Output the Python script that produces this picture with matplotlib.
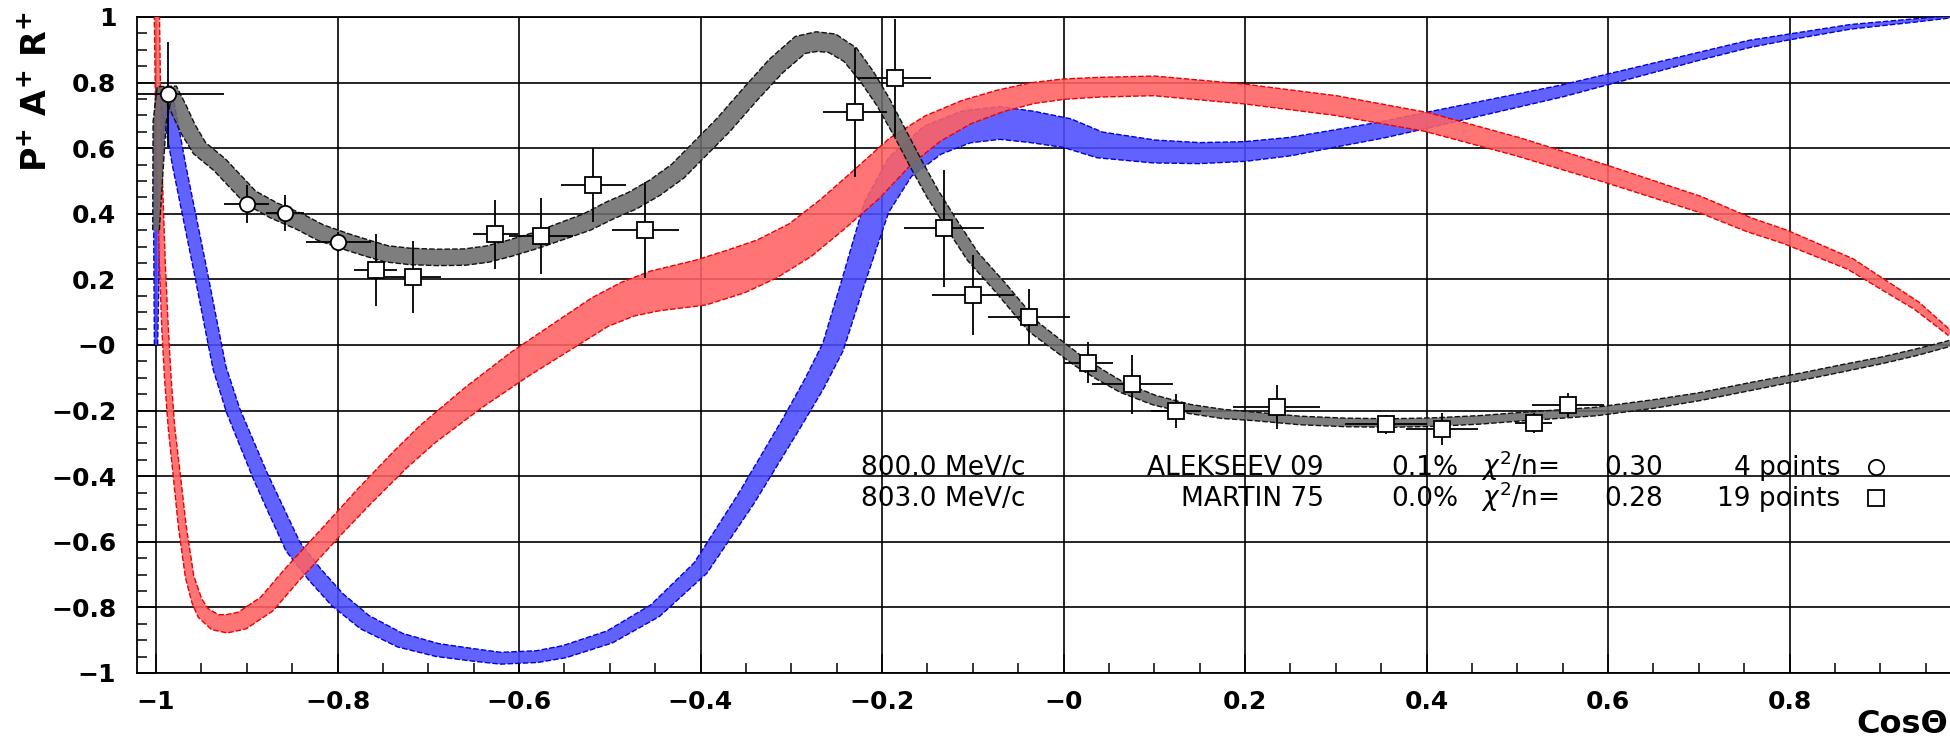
import numpy as np
import matplotlib
matplotlib.use('Agg')
import matplotlib.pyplot as plt
from matplotlib.ticker import FixedLocator, FixedFormatter, MultipleLocator

plt.rcParams['font.family'] = ['DejaVu Sans']
plt.rcParams['mathtext.fontset'] = 'dejavusans'

# ---- bands: centre curve and half width (y units) ----
p_x = [-1.0, -0.996, -0.99, -0.985, -0.975, -0.965, -0.952, -0.93, -0.896, -0.87,
       -0.841, -0.819, -0.79, -0.767, -0.746, -0.72, -0.69, -0.66, -0.635, -0.61,
       -0.58, -0.55, -0.525, -0.5, -0.475, -0.45, -0.425, -0.40, -0.375, -0.345,
       -0.317, -0.29, -0.272, -0.255, -0.235, -0.217, -0.199, -0.18, -0.162, -0.144,
       -0.125, -0.1, -0.07, -0.033, -0.015, 0.016, 0.04, 0.065, 0.1, 0.139,
       0.175, 0.212, 0.26, 0.31, 0.36, 0.409, 0.46, 0.507, 0.55, 0.586,
       0.65, 0.7, 0.76, 0.812, 0.86, 0.903, 0.94, 0.977]
p_y = [0.35, 0.68, 0.78, 0.775, 0.72, 0.66, 0.60, 0.55, 0.45, 0.41,
       0.375, 0.343, 0.315, 0.295, 0.278, 0.27, 0.267, 0.268, 0.277, 0.295,
       0.32, 0.35, 0.375, 0.41, 0.44, 0.48, 0.53, 0.60, 0.67, 0.765,
       0.85, 0.915, 0.925, 0.92, 0.885, 0.82, 0.742, 0.645, 0.55, 0.46,
       0.376, 0.27, 0.177, 0.055, 0.017, -0.048, -0.09, -0.13, -0.168, -0.195,
       -0.21, -0.218, -0.23, -0.236, -0.238, -0.235, -0.228, -0.218, -0.21, -0.203,
       -0.18, -0.158, -0.125, -0.097, -0.07, -0.046, -0.022, 0.005]
p_w = [0.01, 0.02, 0.025, 0.025, 0.025, 0.025, 0.025, 0.025, 0.025, 0.025,
       0.025, 0.025, 0.025, 0.025, 0.025, 0.025, 0.025, 0.025, 0.025, 0.025,
       0.025, 0.026, 0.027, 0.028, 0.028, 0.028, 0.028, 0.028, 0.028, 0.028,
       0.029, 0.03, 0.03, 0.03, 0.028, 0.025, 0.022, 0.02, 0.02, 0.02,
       0.02, 0.02, 0.02, 0.02, 0.019, 0.018, 0.017, 0.016, 0.015, 0.014,
       0.014, 0.013, 0.013, 0.013, 0.013, 0.013, 0.013, 0.013, 0.013, 0.013,
       0.013, 0.012, 0.012, 0.011, 0.011, 0.01, 0.01, 0.009]

a_x = [-1.0, -0.997, -0.993, -0.99, -0.987, -0.983, -0.977, -0.971, -0.963, -0.955,
       -0.948, -0.935, -0.922, -0.905, -0.878, -0.85, -0.805, -0.77, -0.731, -0.7,
       -0.65, -0.6, -0.55, -0.511, -0.48, -0.45, -0.4, -0.36, -0.327, -0.29,
       -0.254, -0.217, -0.18, -0.144, -0.107, -0.07, -0.034, 0.0, 0.04, 0.1,
       0.2, 0.3, 0.4, 0.5, 0.6, 0.7, 0.756, 0.795, 0.867, 0.94, 0.977]
a_y = [1.2, 0.6, 0.25, 0.05, -0.1, -0.25, -0.40, -0.554, -0.706, -0.78,
       -0.817, -0.845, -0.85, -0.84, -0.79, -0.70, -0.564, -0.46, -0.35, -0.27,
       -0.16, -0.06, 0.03, 0.10, 0.14, 0.165, 0.19, 0.225, 0.262, 0.32,
       0.40, 0.49, 0.59, 0.66, 0.71, 0.744, 0.768, 0.78, 0.786, 0.79,
       0.765, 0.73, 0.68, 0.605, 0.52, 0.43, 0.366, 0.33, 0.247, 0.12, 0.035]
a_w = [0.008, 0.008, 0.009, 0.01, 0.01, 0.01, 0.011, 0.012, 0.013, 0.016,
       0.02, 0.025, 0.028, 0.028, 0.028, 0.028, 0.028, 0.03, 0.032, 0.035,
       0.04, 0.045, 0.048, 0.05, 0.055, 0.062, 0.07, 0.07, 0.065, 0.06,
       0.058, 0.058, 0.052, 0.045, 0.038, 0.034, 0.032, 0.031, 0.03, 0.03,
       0.03, 0.03, 0.029, 0.028, 0.026, 0.024, 0.022, 0.021, 0.018, 0.013, 0.008]

r_x = [-1.0, -0.999, -0.997, -0.993, -0.989, -0.982, -0.974, -0.963, -0.952, -0.94,
       -0.93, -0.915, -0.9, -0.885, -0.87, -0.849, -0.825, -0.8, -0.77, -0.731,
       -0.69, -0.65, -0.62, -0.58, -0.55, -0.5, -0.45, -0.4, -0.35, -0.3,
       -0.275, -0.254, -0.232, -0.206, -0.18, -0.144, -0.107, -0.07, -0.035, 0.004,
       0.04, 0.1, 0.15, 0.2, 0.25, 0.3, 0.35, 0.4, 0.45, 0.5,
       0.55, 0.6, 0.65, 0.7, 0.756, 0.795, 0.867, 0.94, 0.977]
r_y = [0.0, 0.4, 0.65, 0.78, 0.76, 0.66, 0.54, 0.39, 0.24, 0.07,
       -0.07, -0.2, -0.30, -0.40, -0.49, -0.615, -0.70, -0.777, -0.845, -0.90,
       -0.93, -0.945, -0.955, -0.95, -0.935, -0.89, -0.81, -0.68, -0.47, -0.24,
       -0.12, -0.006, 0.19, 0.42, 0.543, 0.625, 0.665, 0.677, 0.665, 0.646,
       0.61, 0.59, 0.585, 0.59, 0.605, 0.63, 0.655, 0.685, 0.715, 0.745,
       0.775, 0.81, 0.845, 0.88, 0.918, 0.937, 0.97, 0.99, 1.0]
r_w = [0.005, 0.01, 0.015, 0.02, 0.02, 0.02, 0.02, 0.02, 0.02, 0.02,
       0.02, 0.021, 0.022, 0.023, 0.024, 0.025, 0.025, 0.025, 0.024, 0.022,
       0.02, 0.019, 0.018, 0.018, 0.019, 0.02, 0.022, 0.025, 0.028, 0.03,
       0.032, 0.033, 0.035, 0.04, 0.045, 0.05, 0.05, 0.05, 0.048, 0.045,
       0.04, 0.035, 0.032, 0.03, 0.028, 0.026, 0.025, 0.024, 0.022, 0.02,
       0.018, 0.016, 0.014, 0.012, 0.011, 0.009, 0.007, 0.005, 0.003]

# ---- data points ----
alek_x = [-0.987, -0.900, -0.858, -0.799]
alek_y = [0.765, 0.430, 0.402, 0.315]
alek_dx = [0.062, 0.025, 0.021, 0.036]
alek_dy = [0.16, 0.058, 0.054, 0.03]

mart_x = [-0.758, -0.717, -0.626, -0.576, -0.518, -0.461, -0.230, -0.186, -0.132, -0.100,
          -0.038, 0.027, 0.076, 0.124, 0.235, 0.355, 0.417, 0.518, 0.556]
mart_y = [0.229, 0.208, 0.338, 0.332, 0.488, 0.351, 0.709, 0.813, 0.356, 0.152,
          0.086, -0.054, -0.119, -0.201, -0.19, -0.242, -0.256, -0.237, -0.183]
mart_dx = [0.024, 0.031, 0.025, 0.035, 0.036, 0.037, 0.035, 0.04, 0.044, 0.045,
           0.045, 0.027, 0.045, 0.028, 0.048, 0.045, 0.04, 0.02, 0.04]
mart_dy = [0.11, 0.11, 0.105, 0.117, 0.112, 0.147, 0.198, 0.18, 0.178, 0.122,
           0.085, 0.063, 0.09, 0.052, 0.067, 0.028, 0.048, 0.03, 0.038]

# ---- legend rows ----
leg_mom = ['800.0 MeV/c', '803.0 MeV/c']
leg_ref = ['ALEKSEEV 09', 'MARTIN 75']
leg_pct = ['0.1%', '0.0%']
leg_chi = ['0.30', '0.28']
leg_npt = ['4 points', '19 points']
leg_mk = ['o', 's']

ticks = [-1.0, -0.8, -0.6, -0.4, -0.2, 0.0, 0.2, 0.4, 0.6, 0.8, 1.0]
xlabels = ['\u22121', '\u22120.8', '\u22120.6', '\u22120.4', '\u22120.2', '\u22120',
           '0.2', '0.4', '0.6', '0.8', '']
ylabels = ['\u22121', '\u22120.8', '\u22120.6', '\u22120.4', '\u22120.2', '\u22120',
           '0.2', '0.4', '0.6', '0.8', '1']

W, H = 1950, 739
fig = plt.figure(figsize=(W / 100, H / 100), dpi=100)
ax = fig.add_axes([137 / W, 1 - 673 / H, 1 - 137 / W, 656 / H])
ax.set_xlim(-1 - 19 / 907.5, -1 + 1794 / 907.5)
ax.set_ylim(-1, 1)

for s in ['left', 'bottom', 'top']:
    ax.spines[s].set_linewidth(1.3)
ax.spines['right'].set_visible(False)

ax.xaxis.set_major_locator(FixedLocator(ticks))
ax.xaxis.set_major_formatter(FixedFormatter(xlabels))
ax.yaxis.set_major_locator(FixedLocator(ticks))
ax.yaxis.set_major_formatter(FixedFormatter(ylabels))
ax.xaxis.set_minor_locator(MultipleLocator(0.05))
ax.yaxis.set_minor_locator(MultipleLocator(0.05))
ax.tick_params(which='both', direction='in', width=1.1, color='black')
ax.tick_params(which='major', length=14)
ax.tick_params(which='minor', length=7)
ax.tick_params(axis='x', which='major', pad=12, labelsize=18)
ax.tick_params(axis='y', which='major', pad=15, labelsize=18)
for lab in ax.get_xticklabels() + ax.get_yticklabels():
    lab.set_fontweight('bold')
ax.grid(True, which='major', color='black', lw=1.2)
ax.set_axisbelow(True)


def band(xs, ys, hw, face, edge, z):
    pts = ax.transData.transform(np.column_stack([xs, ys]))
    d = np.gradient(pts, axis=0)
    n = np.column_stack([-d[:, 1], d[:, 0]])
    n /= np.hypot(n[:, 0], n[:, 1])[:, None]
    unit = ax.transData.transform([(0, 1)])[0, 1] - ax.transData.transform([(0, 0)])[0, 1]
    off = n * (np.asarray(hw) * unit)[:, None]
    inv = ax.transData.inverted()
    up = inv.transform(pts + off)
    lo = inv.transform(pts - off)
    poly = np.vstack([up, lo[::-1]])
    ax.fill(poly[:, 0], poly[:, 1], facecolor=face, edgecolor='none', alpha=0.88, zorder=z)
    for e in (up, lo):
        ax.plot(e[:, 0], e[:, 1], color=edge, lw=1.0, ls=(0, (4, 1.5)), zorder=z + 0.1)


band(r_x, r_y, r_w, '#4c4cff', '#0000dd', 3)
band(a_x, a_y, a_w, '#ff6262', '#ee0000', 3.5)
band(p_x, p_y, p_w, '#6c6c6c', '#111111', 4)

ax.errorbar(alek_x, alek_y, xerr=alek_dx, yerr=alek_dy, fmt='none', ecolor='black',
            elinewidth=1.3, capsize=0, zorder=5)
ax.errorbar(mart_x, mart_y, xerr=mart_dx, yerr=mart_dy, fmt='none', ecolor='black',
            elinewidth=1.3, capsize=0, zorder=5)
ax.plot(alek_x, alek_y, 'o', ms=11, mfc='white', mec='black', mew=1.3, zorder=6)
ax.plot(mart_x, mart_y, 's', ms=12, mfc='white', mec='black', mew=1.3, zorder=6)

# legend block
fs = 19
for i in range(2):
    yb = 1 - (475 + 31 * i) / H
    fig.text(861 / W, yb, leg_mom[i], fontsize=fs, va='baseline', ha='left')
    fig.text(1324 / W, yb, leg_ref[i], fontsize=fs, va='baseline', ha='right')
    fig.text(1458 / W, yb, leg_pct[i], fontsize=fs, va='baseline', ha='right')
    fig.text(1481 / W, yb, r'$\chi^2$/n=', fontsize=fs, va='baseline', ha='left')
    fig.text(1604 / W, yb, leg_chi[i], fontsize=fs, va='baseline', ha='left')
    fig.text(1840 / W, yb, leg_npt[i], fontsize=fs, va='baseline', ha='right')
    fig.lines.append(plt.Line2D([1876 / W], [1 - (467 + 31 * i) / H], marker=leg_mk[i],
                                ms=11, mfc='white', mec='black', mew=1.3,
                                transform=fig.transFigure))

fig.text(37 / W, 1 - 12 / H, r'P$^{\mathbf{+}}$ A$^{\mathbf{+}}$ R$^{\mathbf{+}}$',
         rotation=90, ha='center', va='top', fontsize=24, fontweight='bold')
fig.text(1948 / W, 1 - 733 / H, 'Cos\u0398', ha='right', va='baseline',
         fontsize=23, fontweight='bold')

fig.savefig('out.png', dpi=100)
